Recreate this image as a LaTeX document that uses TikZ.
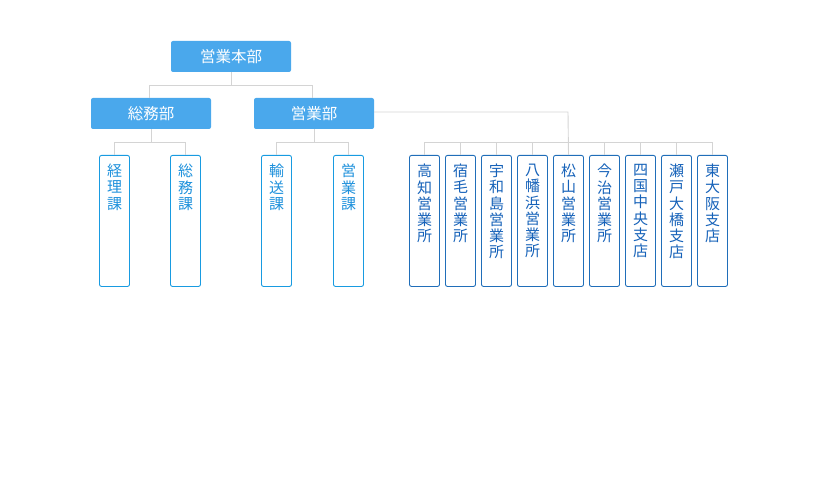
\documentclass[tikz,border=0pt]{standalone}
\usepackage{fontspec}
\newfontfamily\cjk{Noto Sans CJK JP}
\definecolor{headfill}{RGB}{74,168,236}
\definecolor{leftline}{RGB}{24,155,225}
\definecolor{lefttext}{RGB}{30,145,220}
\definecolor{rightline}{RGB}{32,110,185}
\definecolor{righttext}{RGB}{22,98,185}
\definecolor{conn}{RGB}{212,212,212}
\tikzset{
  head/.style={fill=headfill, draw=none, rounded corners=2pt, minimum width=120pt, minimum height=31pt, inner sep=0pt, text=white, font={\cjk\fontsize{15.5}{16}\selectfont}},
  leafl/.style={draw=leftline, line width=0.9pt, fill=white, rounded corners=2pt, minimum width=30pt, minimum height=131pt, inner sep=0pt, anchor=north},
  leafr/.style={draw=rightline, line width=0.9pt, fill=white, rounded corners=2pt, minimum width=30pt, minimum height=131pt, inner sep=0pt, anchor=north},
  ltxt/.style={anchor=north, inner sep=0pt, align=center, text=lefttext, font={\cjk\fontsize{15}{16.2}\selectfont}},
  rtxt/.style={anchor=north, inner sep=0pt, align=center, text=righttext, font={\cjk\fontsize{15}{16.2}\selectfont}},
  wire/.style={draw=conn, line width=0.9pt}
}
\begin{document}
\begin{tikzpicture}[x=1pt,y=-1pt]
\useasboundingbox (0,0) rectangle (840,486);
% heads
\node[head] (top) at (231,56.5) {営業本部};
\node[head] (soumu) at (151,113.5) {総務部};
\node[head] (eigyo) at (314,113.5) {営業部};
% junction coordinates
\coordinate (j1) at (231,85);
\coordinate (j2) at (151,142);
\coordinate (j3) at (314,142);
\coordinate (j4) at (568,112);
% connectors top level
\draw[wire] (top.south) -- (j1);
\draw[wire] (j1) -| ([xshift=-2pt]soumu.north);
\draw[wire] (j1) -| ([xshift=-2pt]eigyo.north);
% left leaves
\node[leafl] (b1) at (114.5,155) {};
\node[leafl] (b2) at (185.5,155) {};
\node[leafl] (b3) at (276.5,155) {};
\node[leafl] (b4) at (348.5,155) {};
\node[ltxt] (t1) at ([yshift=-9pt]b1.north) {経\\理\\課};
\node[ltxt] (t2) at ([yshift=-9pt]b2.north) {総\\務\\課};
\node[ltxt] (t3) at ([yshift=-9pt]b3.north) {輸\\送\\課};
\node[ltxt] (t4) at ([yshift=-9pt]b4.north) {営\\業\\課};
\draw[wire] (soumu.south) -- (j2);
\draw[wire] (j2) -| (b1.north);
\draw[wire] (j2) -| (b2.north);
\draw[wire] (eigyo.south) -- (j3);
\draw[wire] (j3) -| (b3.north);
\draw[wire] (j3) -| (b4.north);
% right leaves
\foreach \i/\lab in {0/{高\\知\\営\\業\\所},1/{宿\\毛\\営\\業\\所},2/{宇\\和\\島\\営\\業\\所},3/{八\\幡\\浜\\営\\業\\所},4/{松\\山\\営\\業\\所},5/{今\\治\\営\\業\\所},6/{四\\国\\中\\央\\支\\店},7/{瀬\\戸\\大\\橋\\支\\店},8/{東\\大\\阪\\支\\店}}{
  \node[leafr] (r\i) at (424.5+36*\i,155) {};
  \node[rtxt] (rt\i) at ([yshift=-9pt]r\i.north) {\lab};
}
\coordinate (hl) at (424.5,142);
\coordinate (hr) at (712.5,142);
\draw[wire] ([yshift=1.5pt]eigyo.east) -- (j4) -- (r4.north);
\draw[wire] (r0.north) -- (hl) -- (hr) -- (r8.north);
\foreach \i in {1,2,3,5,6,7}{
  \draw[wire] (r\i.north) -- (r\i.north |- hl);
}
\end{tikzpicture}
\end{document}
